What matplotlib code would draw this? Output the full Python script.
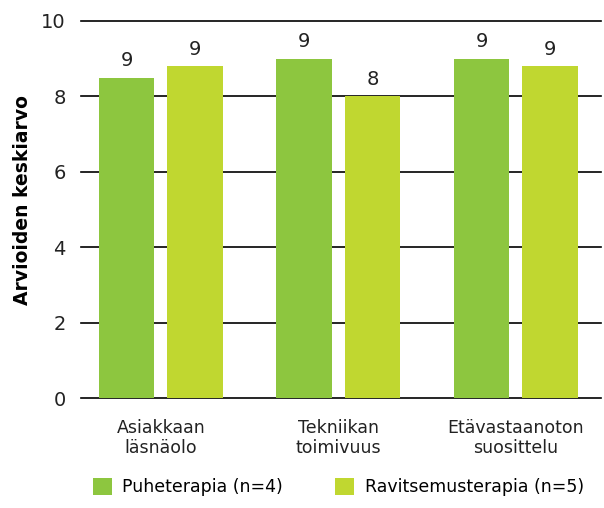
import numpy as np
import matplotlib.pyplot as plt

categories = ['Asiakkaan\nläsnäolo', 'Tekniikan\ntoimivuus', 'Etävastaanoton\nsuosittelu']
series_names = ['Puheterapia (n=4)', 'Ravitsemusterapia (n=5)']
puhe = [8.5, 9.0, 9.0]
ravitsemus = [8.8, 8.0, 8.8]
colors = ['#8DC63F', '#C0D730']

plt.rcParams['font.family'] = ['DejaVu Sans']

fig = plt.figure(figsize=(6.04, 5.08), dpi=100)
ax = fig.add_axes([0.134, 0.2165, 0.861, 0.7422])

x = np.arange(len(categories))
w = 0.314
off = 0.193
b1 = ax.bar(x - off, puhe, w, color=colors[0], label=series_names[0], zorder=3)
b2 = ax.bar(x + off, ravitsemus, w, color=colors[1], label=series_names[1], zorder=3)

for bars in (b1, b2):
    for r in bars:
        v = r.get_height()
        # round half up, like the original labels
        ax.text(r.get_x() + r.get_width() / 2, v + 0.2, str(int(np.floor(v + 0.5))),
                ha='center', va='bottom', fontsize=14, color='#222222')

ax.set_ylim(0, 10)
ax.set_xlim(-0.45, 2.48)
ax.set_yticks(range(0, 11, 2))
for yv in range(0, 11, 2):
    ax.axhline(yv, color='black', lw=1.2, zorder=2, clip_on=False)

ax.set_xticks(x)
ax.set_xticklabels(categories, fontsize=12.5, linespacing=1.15, color='#222222')
ax.tick_params(axis='x', length=0, pad=15)
ax.tick_params(axis='y', length=0, pad=11, labelsize=14, labelcolor='#222222')
for s in ax.spines.values():
    s.set_visible(False)

ax.set_ylabel('Arvioiden keskiarvo', fontsize=13.5, fontweight='bold')
ax.yaxis.set_label_coords(-0.095, 0.525)

fig.legend(loc='lower center', bbox_to_anchor=(0.56, -0.008), ncol=2, frameon=False,
           fontsize=12.5, handlelength=1.1, handleheight=1.1, handletextpad=0.6,
           columnspacing=3.0)

fig.savefig('out.png', dpi=100)
